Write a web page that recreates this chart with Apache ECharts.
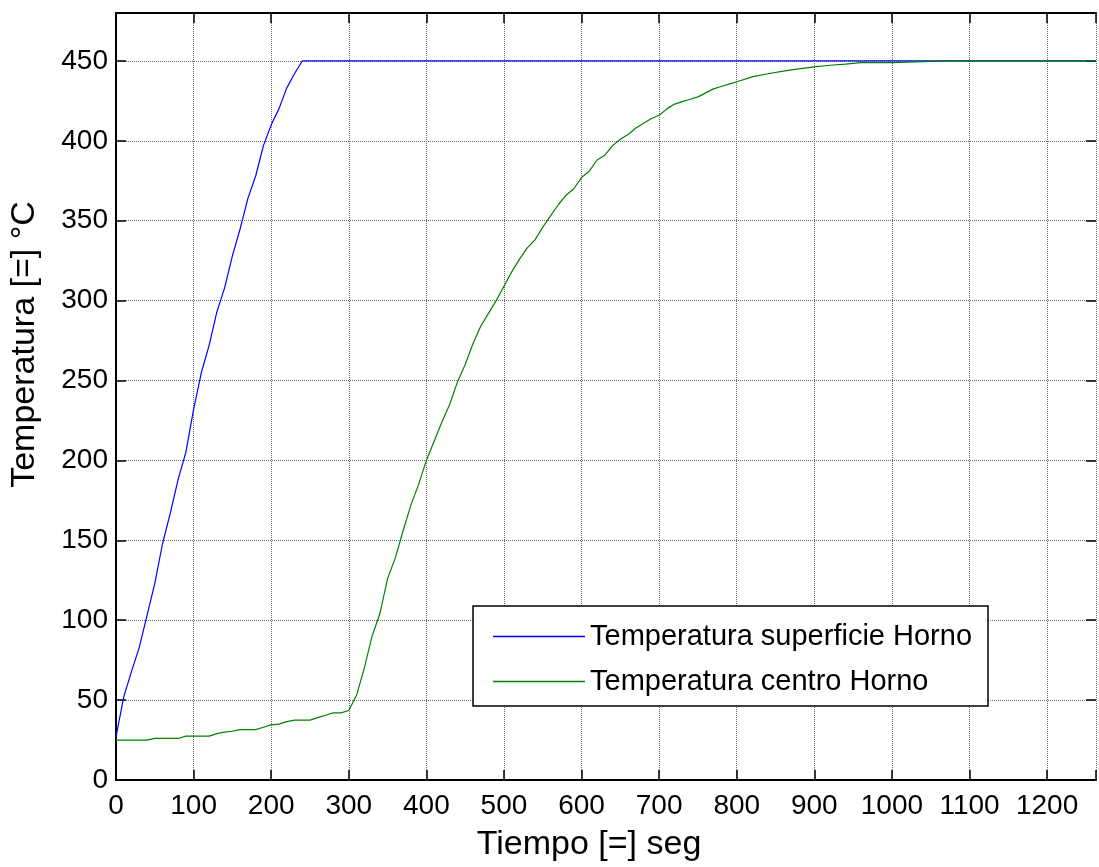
<!DOCTYPE html>
<html>
<head>
<meta charset="utf-8">
<title>Temperatura Horno</title>
<script src="https://cdn.jsdelivr.net/npm/echarts@6/dist/echarts.min.js"></script>
<style>
  html, body { margin: 0; padding: 0; background: #fff; }
  #chart { width: 1099px; height: 867px; overflow: hidden; }
</style>
</head>
<body>
<div id="chart"></div>
<script>
// superficie (blue)
const timeSuperficie = [0, 10, 20, 30, 40, 50, 60, 70, 80, 90, 100, 110, 120, 130, 140, 150,
  160, 170, 180, 190, 200, 210, 220, 230, 240, 1263];
const tempSuperficie = [27, 52, 68, 83, 103, 123, 148, 167, 188, 205, 232, 255, 272, 293, 308, 328,
  345, 364, 378, 397, 410, 420, 433, 442, 450, 450];

// centro (green)
const timeCentro = [0, 10, 20, 30, 40, 50, 60, 70, 80, 90, 100, 110, 120, 130, 140, 150, 160, 170,
  180, 190, 200, 210, 220, 230, 240, 250, 260, 270, 280, 290, 300, 310, 320, 330, 340, 350,
  360, 370, 380, 390, 400, 410, 420, 430, 440, 450, 460, 470, 480, 490, 500, 510, 520, 530,
  540, 550, 560, 570, 580, 590, 600, 610, 620, 630, 640, 650, 660, 670, 680, 690, 700, 710,
  720, 730, 740, 750, 760, 770, 780, 790, 800, 820, 840, 860, 880, 900, 920, 940, 960, 980,
  1000, 1020, 1040, 1060, 1080, 1263];
const tempCentro = [25, 25, 25, 25, 25, 26, 26, 26, 26, 27.5, 27.5, 27.5, 27.5, 29, 30, 30.5, 31.5, 31.5,
  31.5, 33, 34.5, 35, 36.5, 37.5, 37.5, 37.5, 39, 40.5, 42, 42, 43.5, 53, 70, 90, 104, 126,
  139, 156, 172, 185, 200, 212, 224, 235, 249, 260, 273, 284, 292, 300, 309, 318, 326, 333,
  338, 346, 353, 360, 366, 370, 377, 381, 388, 391, 397, 401, 404, 408, 411, 414, 416, 420,
  423, 424.5, 426, 427.5, 430, 432.5, 434, 435.5, 437, 440, 442, 443.6, 445, 446.3, 447.3, 448, 449, 449,
  449, 449.3, 449.6, 449.8, 450, 450];

// the right edge of the axes is just outside the picture
const xTicks = { min: 0, max: 1263, interval: 100 };
const yTicks = { min: 0, max: 480, interval: 50 };

const font = "'Liberation Sans', Arial, Helvetica, sans-serif";
const gridLine = { show: true, lineStyle: { color: '#6a6a6a', type: [1, 1], width: 1 } };
const tick = { show: true, inside: true, length: 10, lineStyle: { color: '#000', width: 1.5 } };
// onZero off, otherwise the top/right axes snap onto the zero line of the other axis
const frameLine = { show: true, onZero: false, lineStyle: { color: '#000', width: 2 } };

const chart = echarts.init(document.getElementById('chart'));

chart.setOption({
  animation: false,
  backgroundColor: '#fff',
  textStyle: { fontFamily: font },
  grid: { left: 116, top: 13, right: -2, bottom: 82 },
  legend: {
    orient: 'vertical',
    left: 473,
    top: 606,
    icon: 'rect',
    itemWidth: 92,
    itemHeight: 1.5,
    itemGap: 16,
    padding: [16, 16, 10, 20],
    borderColor: '#000',
    borderWidth: 1.5,
    backgroundColor: '#fff',
    textStyle: { fontSize: 29, color: '#000', fontFamily: font, lineHeight: 29 },
    data: ['Temperatura superficie Horno', 'Temperatura centro Horno']
  },
  xAxis: [{
    type: 'value',
    position: 'bottom',
    min: xTicks.min, max: xTicks.max, interval: xTicks.interval,
    name: 'Tiempo [=] seg',
    nameLocation: 'middle',
    nameGap: 48,
    nameTextStyle: { fontSize: 34, color: '#000', fontFamily: font, padding: [0, 34, 0, 0] },
    axisLine: frameLine,
    axisTick: tick,
    axisLabel: {
      fontSize: 28, color: '#000', margin: 12, fontFamily: font,
      formatter: v => (v % 100 === 0 ? String(v) : '')
    },
    splitLine: gridLine
  }, {
    type: 'value',
    position: 'top',
    min: xTicks.min, max: xTicks.max, interval: xTicks.interval,
    axisLine: frameLine,
    axisTick: tick,
    axisLabel: { show: false },
    splitLine: { show: false }
  }],
  yAxis: [{
    type: 'value',
    position: 'left',
    min: yTicks.min, max: yTicks.max, interval: yTicks.interval,
    name: 'Temperatura [=] °C',
    nameLocation: 'middle',
    nameGap: 74,
    nameTextStyle: { fontSize: 34, color: '#000', fontFamily: font, padding: [0, 0, 0, 104] },
    axisLine: frameLine,
    axisTick: tick,
    axisLabel: {
      fontSize: 28, color: '#000', margin: 8, fontFamily: font,
      formatter: v => (v % 50 === 0 ? String(v) : '')
    },
    splitLine: gridLine
  }, {
    type: 'value',
    position: 'right',
    min: yTicks.min, max: yTicks.max, interval: yTicks.interval,
    axisLine: { show: false, onZero: false },
    axisTick: tick,
    axisLabel: { show: false },
    splitLine: { show: false }
  }],
  series: [{
    name: 'Temperatura superficie Horno',
    type: 'line',
    symbol: 'none',
    color: '#0000ff',
    lineStyle: { color: '#0000ff', width: 1.2 },
    data: timeSuperficie.map((t, i) => [t, tempSuperficie[i]])
  }, {
    name: 'Temperatura centro Horno',
    type: 'line',
    symbol: 'none',
    color: '#008000',
    lineStyle: { color: '#008000', width: 1.2 },
    data: timeCentro.map((t, i) => [t, tempCentro[i]])
  }]
});
</script>
</body>
</html>
